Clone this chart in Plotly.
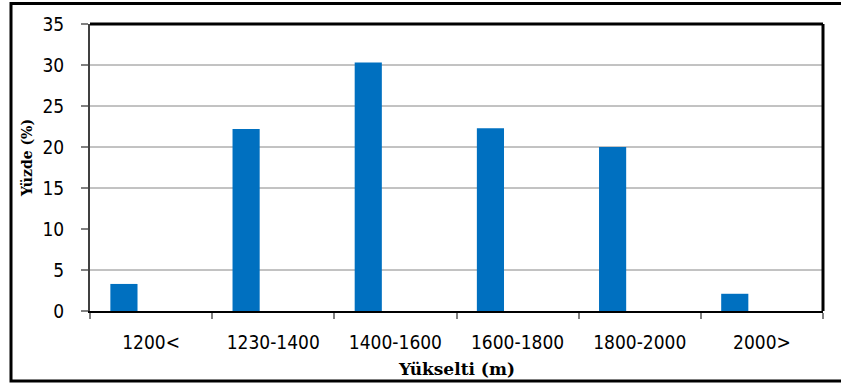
import plotly.graph_objects as go

# Elevation classes and their share of the area (%)
categories = ["1200<", "1230-1400", "1400-1600", "1600-1800", "1800-2000", "2000>"]
percent = [3.3, 22.2, 30.3, 22.3, 20.0, 2.1]

y_ticks = [0, 5, 10, 15, 20, 25, 30, 35]
grid_levels = [5, 15, 20, 25, 30]

W, H = 841, 383
L, R, T, B = 90, 18, 24, 72
pw, ph = W - L - R, H - T - B


def px_x(x):
    return (x - L) / pw


def px_y(y):
    return (H - B - y) / ph


BAR_COLOR = "#0070C0"
GRID_COLOR = "#868686"
TICK_FONT = dict(family="DejaVu Sans Condensed", size=19, color="black")

fig = go.Figure()
fig.add_trace(go.Bar(
    x=categories,
    y=percent,
    marker=dict(color=BAR_COLOR, line=dict(width=0)),
    width=1 / 4.5,
    offset=-0.5 + 0.75 / 4.5,
    hoverinfo="x+y",
))

shapes = []
# horizontal gridlines
for g in grid_levels:
    shapes.append(dict(type="line", xref="paper", yref="y", x0=0, x1=1, y0=g, y1=g,
                       line=dict(color=GRID_COLOR, width=1), layer="below"))
# heavy top and right edges of the plot area
shapes.append(dict(type="line", xref="paper", yref="paper", x0=0, x1=1, y0=1, y1=1,
                   line=dict(color="black", width=3)))
shapes.append(dict(type="line", xref="paper", yref="paper", x0=1, x1=1, y0=0, y1=1,
                   line=dict(color="black", width=3)))
# outer frame around the whole chart
shapes.append(dict(type="rect", xref="paper", yref="paper",
                   x0=px_x(11), x1=px_x(848), y0=px_y(381), y1=px_y(3.5),
                   line=dict(color="black", width=3), fillcolor="rgba(0,0,0,0)"))

fig.update_layout(
    width=W, height=H,
    margin=dict(l=L, r=R, t=T, b=B),
    paper_bgcolor="white",
    plot_bgcolor="white",
    showlegend=False,
    shapes=shapes,
    xaxis=dict(
        type="category",
        range=[-0.5, 5.5],
        showgrid=False,
        showline=True, linecolor="black", linewidth=2,
        ticks="outside", tickson="boundaries", ticklen=6, tickwidth=2, tickcolor="#808080",
        tickfont=TICK_FONT,
        ticklabelstandoff=13,
        fixedrange=True,
    ),
    yaxis=dict(
        range=[0, 35],
        tickvals=y_ticks,
        showgrid=False,
        zeroline=False,
        showline=True, linecolor="#404040", linewidth=2,
        ticks="outside", ticklen=7, tickwidth=2, tickcolor="#808080",
        tickfont=TICK_FONT,
        ticklabelstandoff=13,
        fixedrange=True,
    ),
    annotations=[
        dict(
            text="Yüzde (%)", xref="paper", yref="paper",
            x=px_x(27), y=px_y(158), textangle=-90, showarrow=False,
            xanchor="center", yanchor="middle",
            font=dict(family="DejaVu Serif", size=14, color="black", weight="bold"),
        ),
        dict(
            text="Yükselti (m)", xref="paper", yref="paper",
            x=px_x(456), y=px_y(369), showarrow=False,
            xanchor="center", yanchor="middle",
            font=dict(family="DejaVu Serif", size=17, color="black", weight="bold"),
        ),
    ],
)

fig.write_html("out.html")
